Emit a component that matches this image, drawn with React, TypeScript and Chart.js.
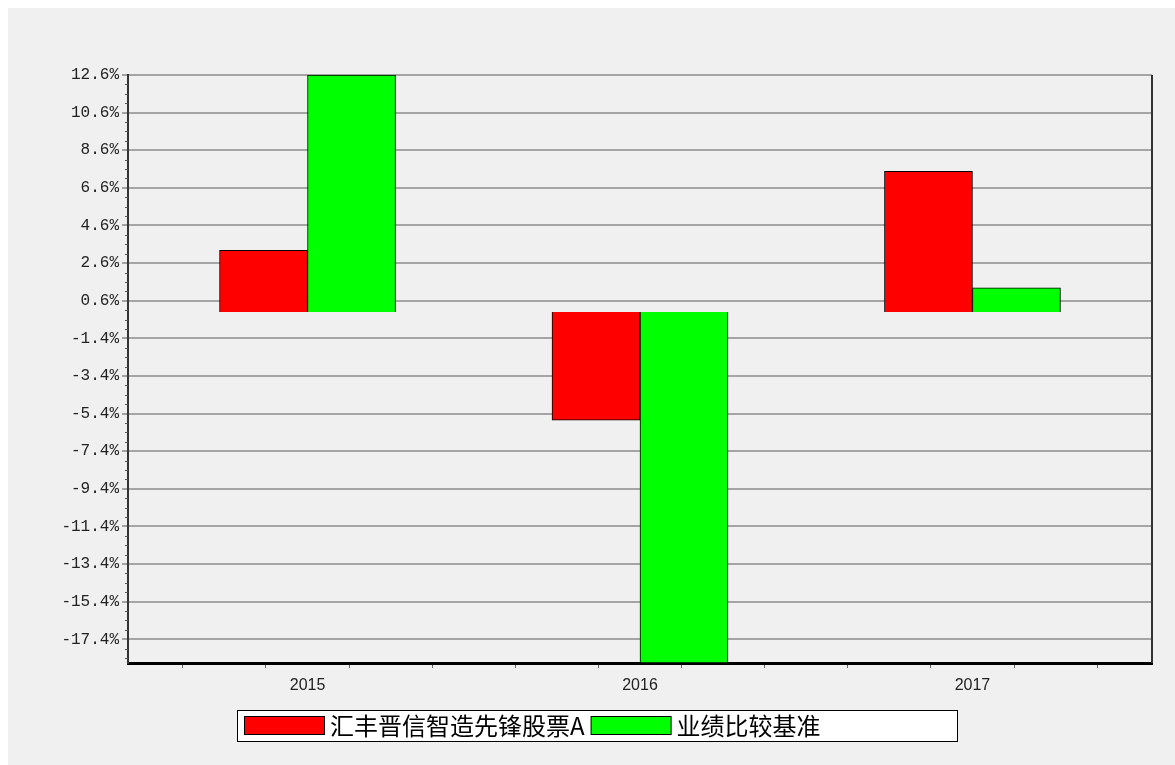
import React, { useEffect, useRef } from 'react';
import { Chart, registerables } from 'chart.js';

Chart.register(...registerables);

// ---- data ----
const years = ['2015', '2016', '2017'];
const fundReturns = [3.28, -5.75, 7.48];
const benchmarkReturns = [12.6, -18.66, 1.29];
const seriesNames = ['汇丰晋信智造先锋股票A', '业绩比较基准'];
const seriesColors = ['#ff0000', '#00ff00'];
const yTickValues = [12.6, 10.6, 8.6, 6.6, 4.6, 2.6, 0.6, -1.4, -3.4, -5.4, -7.4, -9.4, -11.4, -13.4, -15.4, -17.4];
const yMax = 12.6;
const yMin = -18.66;
const yMinorStep = 0.5;
const xMinorStep = 0.25;

const decorPlugin = {
  id: 'decor',
  afterDraw(chart: any) {
    const ctx = chart.ctx;
    const { left, right, top, bottom } = chart.chartArea;
    const ys = chart.scales.y;
    ctx.save();
    // minor ticks on y axis
    ctx.strokeStyle = '#555';
    ctx.lineWidth = 1;
    for (let k = 0; ; k++) {
      const v = yMax - k * yMinorStep;
      if (v < yMin) break;
      if (k % 4 === 0) continue;
      const py = Math.round(ys.getPixelForValue(v)) + 0.5;
      ctx.beginPath();
      ctx.moveTo(left - 3, py);
      ctx.lineTo(left, py);
      ctx.stroke();
    }
    // right frame line
    ctx.strokeStyle = '#333';
    ctx.lineWidth = 2;
    ctx.beginPath();
    ctx.moveTo(right, top);
    ctx.lineTo(right, bottom);
    ctx.stroke();

    // legend box
    const lx = 229.5, ly = 702.5, lw = 720, lh = 31;
    ctx.fillStyle = '#ffffff';
    ctx.fillRect(lx, ly, lw, lh);
    ctx.strokeStyle = '#000';
    ctx.lineWidth = 1;
    ctx.strokeRect(lx, ly, lw, lh);
    ctx.font = '24px "Noto Sans CJK SC"';
    ctx.textBaseline = 'middle';
    ctx.textAlign = 'left';
    let x = 236;
    chart.data.datasets.forEach((ds: any) => {
      ctx.fillStyle = ds.backgroundColor;
      ctx.fillRect(x + 0.5, 708.5, 80, 18);
      ctx.strokeStyle = '#000';
      ctx.strokeRect(x + 0.5, 708.5, 80, 18);
      x += 86;
      ctx.fillStyle = '#000';
      ctx.fillText(ds.label, x, 718);
      x += ctx.measureText(ds.label).width + 6;
    });
    ctx.restore();
  },
};

export default function App() {
  const ref = useRef<HTMLCanvasElement | null>(null);

  useEffect(() => {
    if (!ref.current) return;
    const chart = new Chart(ref.current, {
      type: 'bar',
      data: {
        datasets: [
          {
            label: seriesNames[0],
            data: years.map((_, i) => ({ x: i, y: fundReturns[i] })),
            backgroundColor: seriesColors[0],
            borderColor: '#000',
            borderWidth: 1,
            barThickness: 88,
          },
          {
            label: seriesNames[1],
            data: years.map((_, i) => ({ x: i, y: benchmarkReturns[i] })),
            backgroundColor: seriesColors[1],
            borderColor: '#000',
            borderWidth: 1,
            barThickness: 88,
          },
        ],
      },
      options: {
        animation: false,
        responsive: false,
        devicePixelRatio: 1,
        layout: { padding: { left: 0, top: 67, right: 23, bottom: 0 } },
        plugins: {
          legend: { display: false },
          tooltip: { enabled: false },
        },
        scales: {
          x: {
            type: 'linear',
            min: -0.54,
            max: 2.54,
            offset: false,
            afterBuildTicks: (s: any) => {
              const t = [];
              for (let v = -0.5; v <= years.length - 0.5 + 1e-9; v += xMinorStep) t.push({ value: v });
              s.ticks = t;
            },
            afterFit: (s: any) => {
              s.height = 102;
            },
            ticks: {
              autoSkip: false,
              maxRotation: 0,
              padding: 8,
              color: '#222',
              font: { family: 'Liberation Sans', size: 16 },
              callback: (value: any) => {
                const i = Math.round(value);
                return Math.abs(value - i) < 1e-6 && years[i] ? years[i] : '';
              },
            },
            grid: {
              drawOnChartArea: false,
              drawTicks: true,
              tickLength: 5,
              tickColor: '#666',
              tickWidth: 1,
            },
            border: { color: '#000', width: 3 },
          },
          y: {
            min: yMin,
            max: yMax,
            afterBuildTicks: (s: any) => {
              s.ticks = yTickValues.map((v) => ({ value: v }));
            },
            afterFit: (s: any) => {
              s.width = 120;
            },
            ticks: {
              padding: 3,
              color: '#222',
              font: { family: 'Liberation Mono', size: 16 },
              callback: (v: any) => Number(v).toFixed(1) + '%',
            },
            grid: {
              color: '#a5a5a5',
              lineWidth: 2,
              drawTicks: true,
              tickLength: 6,
              tickColor: '#555',
              tickWidth: 1,
            },
            border: { color: '#333', width: 2 },
          },
        },
      },
      plugins: [decorPlugin],
    } as any);
    return () => chart.destroy();
  }, []);

  return (
    <div
      style={{
        position: 'fixed',
        left: 8,
        top: 8,
        width: 1167,
        height: 757,
        background: '#f0f0f0',
      }}
    >
      <canvas ref={ref} width={1167} height={757} style={{ width: 1167, height: 757, display: 'block' }} />
    </div>
  );
}
